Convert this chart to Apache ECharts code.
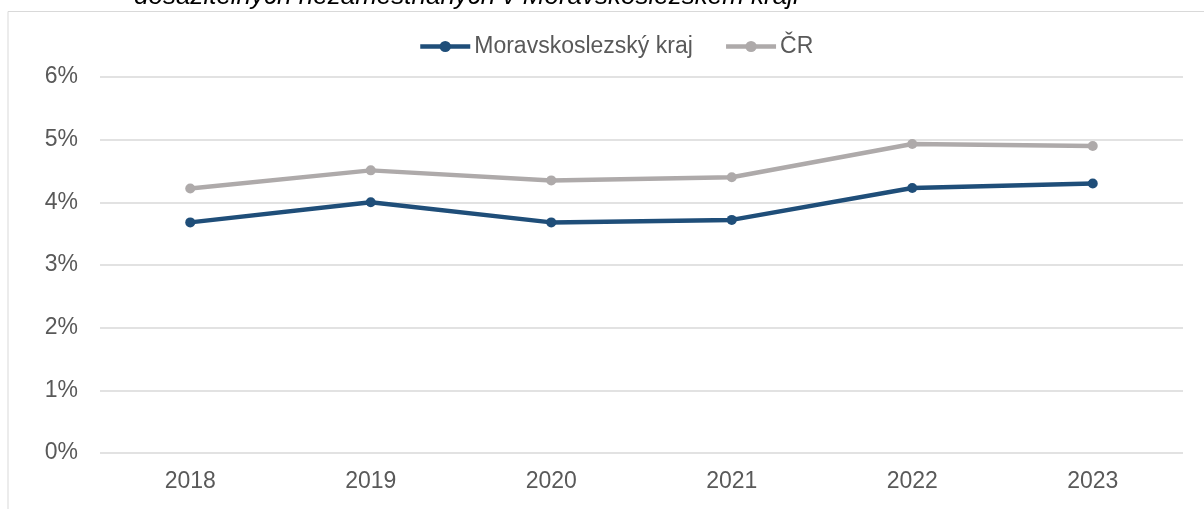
<!DOCTYPE html>
<html>
<head>
<meta charset="utf-8">
<script src="https://cdn.jsdelivr.net/npm/echarts@6/dist/echarts.min.js"></script>
<style>
  html, body { margin: 0; padding: 0; background: #fff; }
  #chart { width: 1204px; height: 509px; }
</style>
</head>
<body>
<div id="chart"></div>
<script>
var years = ['2018', '2019', '2020', '2021', '2022', '2023'];
var msk = [3.68, 4.0, 3.68, 3.72, 4.23, 4.3];
var cr = [4.22, 4.51, 4.35, 4.4, 4.93, 4.9];
var titleText = 'dosažitelných nezaměstnaných v Moravskoslezském kraji';

var chart = echarts.init(document.getElementById('chart'));

var option = {
  animation: false,
  color: ['#1F4E79', '#AEAAAA'],
  textStyle: { fontFamily: 'Liberation Sans, Arial, sans-serif' },
  graphic: [
    // title cut off by the top of the picture
    {
      type: 'text',
      left: 134,
      top: -16,
      style: {
        text: titleText,
        font: 'italic 26px "Liberation Sans", Arial, sans-serif',
        fill: '#000'
      }
    },
    // frame of the chart area
    {
      type: 'polyline',
      shape: { points: [[8, 509], [8, 11.5], [1204, 11.5]] },
      style: { stroke: '#D9D9D9', lineWidth: 1, fill: null }
    }
  ],
  legend: {
    data: ['Moravskoslezský kraj', 'ČR'],
    top: 30,
    left: 413,
    itemWidth: 50,
    itemHeight: 14,
    itemGap: 31,
    lineStyle: { width: 4.5 },
    textStyle: { color: '#595959', fontSize: 23, padding: [0, 0, 0, -1] }
  },
  grid: {
    left: 100,
    right: 21,
    top: 77,
    bottom: 56
  },
  xAxis: {
    type: 'category',
    data: years,
    axisLine: { show: false },
    axisTick: { show: false },
    axisLabel: { color: '#595959', fontSize: 23, margin: 17 }
  },
  yAxis: {
    type: 'value',
    min: 0,
    max: 6,
    interval: 1,
    axisLabel: {
      color: '#595959',
      fontSize: 23,
      margin: 22,
      formatter: '{value}%'
    },
    splitLine: { lineStyle: { color: '#D9D9D9', width: 1.5 } }
  },
  series: [
    {
      name: 'Moravskoslezský kraj',
      type: 'line',
      data: msk,
      symbol: 'circle',
      symbolSize: 10,
      lineStyle: { width: 4.5 },
      z: 3
    },
    {
      name: 'ČR',
      type: 'line',
      data: cr,
      symbol: 'circle',
      symbolSize: 10,
      lineStyle: { width: 4.5 },
      z: 2
    }
  ]
};

chart.setOption(option);
</script>
</body>
</html>
